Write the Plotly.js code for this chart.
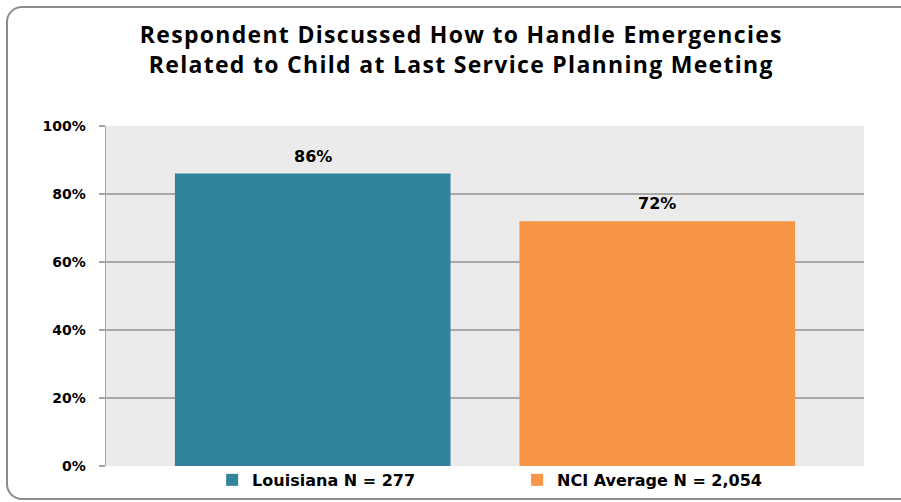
<!DOCTYPE html>
<html>
<head>
<meta charset="utf-8">
<script src="https://cdn.plot.ly/plotly-3.0.1.min.js"></script>
<style>
  html, body { margin: 0; padding: 0; background: #ffffff; }
  #wrap { position: relative; width: 901px; height: 502px; overflow: hidden; }
  #frame { position: absolute; left: 6px; top: 6px; width: 920px; height: 494px;
           border: 2px solid #8c8c8c; border-radius: 16px; box-sizing: border-box; }
  #chart { position: absolute; left: 0; top: 0; width: 901px; height: 502px; }
  .gtitle { letter-spacing: 1.3px; }
</style>
</head>
<body>
<div id="wrap">
  <div id="frame"></div>
  <div id="chart"></div>
</div>
<script>
// ---- data ----
const seriesNames = ["Louisiana N = 277", "NCI Average N = 2,054"];
const seriesValues = [86, 72];
const seriesColors = ["#31849b", "#f79646"];
const seriesPositions = [1, 2];
const yTickValues = [0, 20, 40, 60, 80, 100];
const yTickLabels = ["0%", "20%", "40%", "60%", "80%", "100%"];
const titleText = "Respondent Discussed How to Handle Emergencies<br>Related to Child at Last Service Planning Meeting";

const traces = seriesNames.map((name, i) => ({
  type: "bar",
  name: name,
  x: [seriesPositions[i]],
  y: [seriesValues[i]],
  width: 0.8,
  marker: { color: seriesColors[i], line: { width: 0 } },
  hoverinfo: "skip"
}));

const annotations = seriesNames.map((name, i) => ({
  x: seriesPositions[i],
  y: seriesValues[i],
  xref: "x", yref: "y",
  text: seriesValues[i] + "%",
  showarrow: false,
  yanchor: "bottom",
  yshift: 6,
  font: { family: "DejaVu Sans", size: 16, color: "#000000", weight: 700 }
}));

const layout = {
  width: 901, height: 502,
  paper_bgcolor: "rgba(0,0,0,0)",
  plot_bgcolor: "#ebebeb",
  margin: { l: 106, r: 37, t: 126, b: 36, autoexpand: false },
  title: {
    text: titleText,
    x: 0.512, xref: "container", xanchor: "center",
    y: 0.915, yref: "container", yanchor: "middle",
    font: { family: "Open Sans", size: 23, color: "#000000", weight: 700 }
  },
  barmode: "overlay",
  xaxis: {
    range: [0.4, 2.6],
    showticklabels: false,
    showgrid: false,
    zeroline: false,
    showline: false,
    ticks: "",
    fixedrange: true
  },
  yaxis: {
    range: [0, 100],
    tickvals: yTickValues,
    ticktext: yTickLabels,
    ticks: "outside",
    ticklen: 6,
    tickwidth: 1.5,
    tickcolor: "#a6a6a6",
    ticklabelstandoff: 10,
    tickfont: { family: "DejaVu Sans", size: 14, color: "#000000", weight: 700 },
    showgrid: true,
    gridcolor: "#a9a9a9",
    gridwidth: 1.5,
    zeroline: false,
    showline: true,
    linecolor: "#a6a6a6",
    linewidth: 1.5,
    fixedrange: true
  },
  showlegend: true,
  legend: {
    orientation: "h",
    x: 0.14, xanchor: "left",
    y: -0.041, yanchor: "middle",
    xref: "paper", yref: "paper",
    entrywidth: 260,
    entrywidthmode: "pixels",
    bgcolor: "rgba(0,0,0,0)",
    font: { family: "DejaVu Sans", size: 16, color: "#000000", weight: 700 },
    traceorder: "normal"
  },
  annotations: annotations
};

Plotly.newPlot("chart", traces, layout, { displayModeBar: false, staticPlot: true });
</script>
</body>
</html>
